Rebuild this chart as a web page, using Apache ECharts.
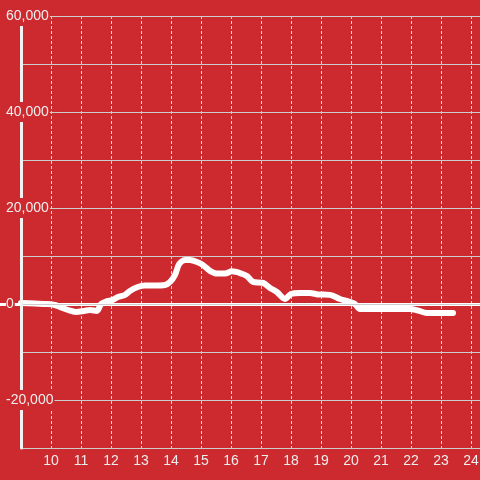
<!DOCTYPE html>
<html>
<head>
<meta charset="utf-8">
<script src="https://cdn.jsdelivr.net/npm/echarts@6/dist/echarts.min.js"></script>
<style>
html,body{margin:0;padding:0;background:#cc2a2f;}
#c{width:480px;height:480px;}
</style>
</head>
<body>
<div id="c"></div>
<script>
var hours = [9.0, 9.47, 9.9, 10.13, 10.3, 10.57, 10.83, 11.1, 11.3, 11.53, 11.67, 11.87, 12.03, 12.23, 12.47, 12.63, 12.87, 13.13, 13.47, 13.8, 13.97, 14.13, 14.27, 14.47, 14.63, 14.87, 15.07, 15.3, 15.53, 15.8, 16.03, 16.3, 16.53, 16.73, 17.07, 17.3, 17.53, 17.8, 18.0, 18.3, 18.63, 18.9, 19.3, 19.63, 19.97, 20.13, 20.3, 20.63, 21.3, 21.97, 22.23, 22.53, 22.97, 23.4];
var values = [200, 100, 0, -200, -600, -1250, -1650, -1450, -1250, -1450, 0, 600, 800, 1450, 1900, 2700, 3500, 3850, 3850, 3950, 4600, 6000, 8300, 9150, 9150, 8750, 8100, 6900, 6350, 6350, 6800, 6450, 5850, 4600, 4400, 3350, 2500, 1050, 2100, 2300, 2300, 2000, 1900, 1050, 400, 0, -1050, -1050, -1050, -1050, -1350, -1850, -1850, -1850];
var yTickLabels = [-20000, 0, 20000, 40000, 60000];
var xTickLabels = [10, 11, 12, 13, 14, 15, 16, 17, 18, 19, 20, 21, 22, 23, 24];

var bg = '#cc2a2f';
var font = 'Liberation Sans, Arial, sans-serif';
var data = hours.map(function (h, i) { return [h, values[i]]; });
var chart = echarts.init(document.getElementById('c'));
chart.setOption({
  backgroundColor: bg,
  animation: false,
  grid: [
    { left: 21, right: -21, top: 16, bottom: 32, outerBoundsMode: 'none' },
    { left: 0, right: 0, top: 16, bottom: 32, outerBoundsMode: 'none' }
  ],
  xAxis: [{
    type: 'value',
    gridIndex: 0,
    min: 9,
    max: 25,
    interval: 1,
    axisLine: { show: false },
    axisTick: { show: false },
    axisLabel: {
      color: '#eeeeee', fontSize: 14, margin: 6, fontFamily: font,
      formatter: function (v) { return xTickLabels.indexOf(v) >= 0 ? String(v) : ''; }
    },
    splitLine: { show: true, lineStyle: { color: '#dddddd', width: 1, type: [3, 2] } }
  }, {
    type: 'value',
    gridIndex: 1,
    min: 0,
    max: 1,
    axisLine: { show: true, onZero: true, lineStyle: { color: '#ffffff', width: 3 } },
    axisTick: { show: false },
    axisLabel: { show: false },
    splitLine: { show: false },
    z: 2
  }],
  yAxis: [{
    type: 'value',
    gridIndex: 0,
    min: -30000,
    max: 60000,
    interval: 10000,
    axisLine: { show: true, lineStyle: { color: '#f2f2f2', width: 3 } },
    axisTick: { show: false },
    axisLabel: {
      align: 'left',
      margin: 15,
      fontFamily: font,
      formatter: function (v) {
        return yTickLabels.indexOf(v) >= 0 ? '{a|' + v.toLocaleString('en-US') + '}' : '';
      },
      rich: {
        a: { color: '#eeeeee', fontSize: 14, backgroundColor: bg, padding: [3, 1, 3, 0], fontFamily: font }
      }
    },
    splitLine: { show: true, lineStyle: { color: '#cccccc', width: 1 } },
    z: 4
  }, {
    type: 'value',
    gridIndex: 1,
    min: -30000,
    max: 60000,
    interval: 10000,
    axisLine: { show: false },
    axisTick: { show: false },
    axisLabel: { show: false },
    splitLine: { show: false }
  }],
  series: [{
    type: 'line',
    xAxisIndex: 0,
    yAxisIndex: 0,
    data: data,
    smooth: 0.3,
    showSymbol: false,
    lineStyle: { color: '#ffffff', width: 6, cap: 'round', join: 'round' },
    z: 3
  }]
});
</script>
</body>
</html>
